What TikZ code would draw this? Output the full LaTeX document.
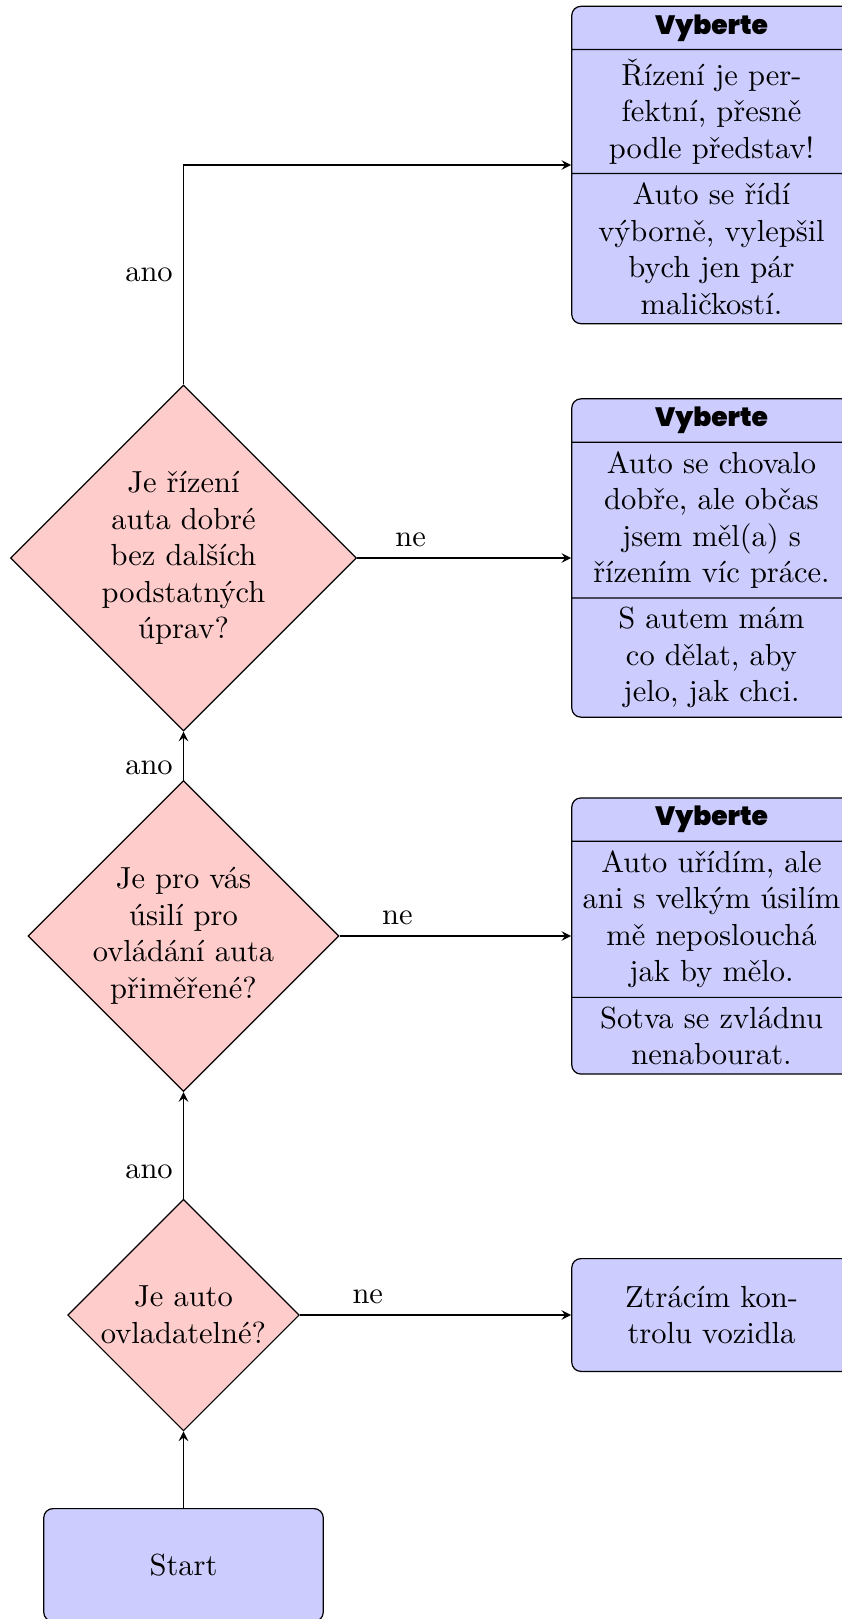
\documentclass[tikz,border=0pt]{standalone}
\usepackage{fontspec}
\IfFontExistsTF{Poppins Black}
  {\newfontfamily\titlefont{Poppins Black}[BoldFont = Poppins Black]}
  {\newfontfamily\titlefont{Poppins}}
\newcommand{\pickhead}{%
  {\titlefont\bfseries\fontsize{8.7pt}{10pt}\selectfont
   \rule[-2pt]{0pt}{8.2pt}\smash{Vyberte}}}
\usetikzlibrary{shapes.geometric,shapes.multipart,arrows}

\begin{document}
\begin{tikzpicture}[
  x = 0.328pt, y = -0.328pt,
  >= stealth,
  box/.style = {
    draw, fill = blue!20, rounded corners = 3pt,
    text width = 85pt, align = center},
  endbox/.style = {box, minimum height = 37pt},
  pickbox/.style = {
    box, rectangle split, rectangle split parts = 3,
    inner ysep = 2.8pt},
  decision/.style = {
    draw, fill = red!20, diamond, aspect = 1,
    inner sep = -0.6pt, align = center}
  ]
  \useasboundingbox (0,0) rectangle (841,1619);

  \node [endbox] (start) at (183.5,1565) {Start};
  \node [decision, minimum size = 76pt] (controllable) at (183.5,1315)
    {Je auto\\ovladatelné?};
  \node [decision, minimum size = 101.5pt] (effort) at (183.5,936)
    {Je pro vás\\úsilí pro\\ovládání auta\\přiměřené?};
  \node [decision, minimum size = 113.5pt] (steering) at (183.5,558)
    {Je řízení\\auta dobré\\bez dalších\\podstatných\\úprav?};

  \node [endbox] (lost) at (711.5,1315) {Ztrácím kon-\\trolu vozidla};
  \node [pickbox] (pickeffort) at (711.5,936)
    {\pickhead
     \nodepart{two} Auto uřídím, ale\\ani s velkým úsilím\\mě neposlouchá\\jak by mělo.
     \nodepart{three} Sotva se zvládnu\\nenabourat.};
  \node [pickbox] (picksteering) at (711.5,558)
    {\pickhead
     \nodepart{two} Auto se chovalo\\dobře, ale občas\\jsem měl(a) s\\řízením víc práce.
     \nodepart{three} S autem mám\\co dělat, aby\\jelo, jak chci.};
  \node [pickbox] (pickgood) at (711.5,165)
    {\pickhead
     \nodepart{two} Řízení je per-\\fektní, přesně\\podle představ!
     \nodepart{three} Auto se řídí\\výborně, vylepšil\\bych jen pár\\maličkostí.};

  \draw [->] (start) -- (controllable);
  \draw [->] (controllable) -- node [pos = 0.25, left] {ano} (effort);
  \draw [->] (effort) -- node [pos = 0.25, left] {ano} (steering);
  \draw [->] (steering.north) |- node [pos = 0.25, left] {ano} (pickgood.west);
  \draw [->] (controllable.east) -- node [pos = 0.25, above] {ne} (lost.west);
  \draw [->] (effort.east) -- node [pos = 0.25, above] {ne} (pickeffort.west);
  \draw [->] (steering.east) -- node [pos = 0.25, above] {ne} (picksteering.west);
\end{tikzpicture}
\end{document}
